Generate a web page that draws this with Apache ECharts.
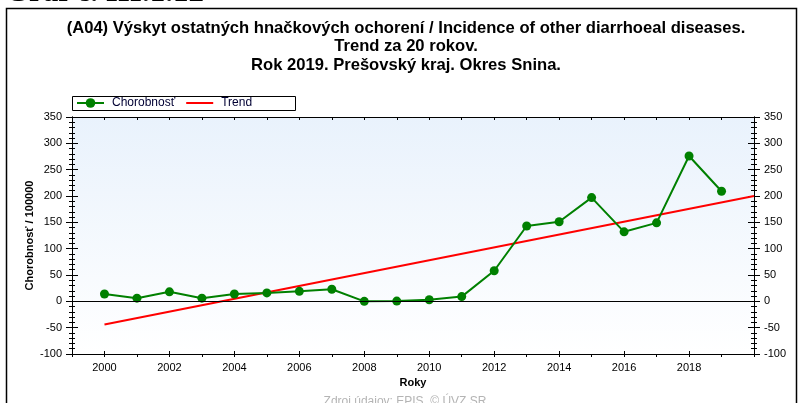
<!DOCTYPE html>
<html>
<head>
<meta charset="utf-8">
<script src="https://cdn.jsdelivr.net/npm/echarts@6/dist/echarts.min.js"></script>
<style>
  html, body { margin: 0; padding: 0; background: #fff; }
  #chart { width: 798px; height: 403px; }
</style>
</head>
<body>
<div id="chart"></div>
<script>
// roky a chorobnost na 100000 (odčítané z grafu)
const years = [2000, 2001, 2002, 2003, 2004, 2005, 2006, 2007, 2008, 2009,
  2010, 2011, 2012, 2013, 2014, 2015, 2016, 2017, 2018, 2019]
const chorobnost = [14, 6, 18, 6, 14, 16, 19, 23, 0, 0.5,
  3, 9, 58, 143, 151, 197, 132, 149, 276, 209]
// lineárny trend – začiatok a koniec
const trendYears = [2000, 2020]
const trendValues = [-44, 200]
// popisky osi X
const xLabels = [2000, 2002, 2004, 2006, 2008, 2010, 2012, 2014, 2016, 2018]
const evenYears = xLabels.concat([2020])

const font = 'Liberation Sans, Arial, sans-serif'
const chart = echarts.init(document.getElementById('chart'))

const yBase = {
  type: 'value',
  min: -100,
  max: 350,
  interval: 50,
  splitLine: { show: false },
  axisLine: { show: true, lineStyle: { color: '#000', width: 1 } },
  axisTick: { show: true, length: 6, lineStyle: { color: '#000' } },
  minorTick: { show: true, splitNumber: 5, length: 3, lineStyle: { color: '#000' } },
  axisLabel: { color: '#000', fontFamily: font, fontSize: 11, margin: 10 }
}

const xBase = {
  type: 'value',
  min: 1999,
  max: 2020,
  interval: 1,
  splitLine: { show: false },
  axisLine: { show: true, onZero: false, lineStyle: { color: '#000', width: 1 } },
  axisLabel: { show: false }
}

const option = {
  backgroundColor: '#fff',
  animation: false,
  title: {
    text: '(A04) Výskyt ostatných hnačkových ochorení / Incidence of other diarrhoeal diseases.\nTrend za 20 rokov.\nRok 2019. Prešovský kraj. Okres Snina.',
    left: 401,
    textAlign: 'center',
    top: 14,
    textStyle: {
      fontFamily: font,
      fontSize: 16.6,
      fontWeight: 'bold',
      color: '#000',
      lineHeight: 18.5
    }
  },
  legend: {
    left: 76,
    top: 97,
    padding: 0,
    itemWidth: 27,
    itemHeight: 12,
    itemGap: 10,
    textStyle: { fontFamily: font, fontSize: 12, color: '#000033', padding: [0, 0, 0, 3] },
    data: ['Chorobnosť', { name: 'Trend', itemStyle: { opacity: 0 } }]
  },
  grid: {
    left: 72,
    right: 44,
    top: 117,
    bottom: 49,
    show: true,
    borderWidth: 0,
    backgroundColor: {
      type: 'linear', x: 0, y: 0, x2: 0, y2: 1,
      colorStops: [{ offset: 0, color: '#e9f2fc' }, { offset: 1, color: '#ffffff' }]
    }
  },
  xAxis: [
    Object.assign({}, xBase, {
      position: 'bottom',
      name: 'Roky',
      nameLocation: 'middle',
      nameGap: 23,
      nameTextStyle: { fontFamily: font, fontSize: 11, fontWeight: 'bold', color: '#000' },
      axisTick: { show: true, length: 3, lineStyle: { color: '#000' } },
      axisLabel: {
        show: true,
        customValues: xLabels,
        formatter: (v) => String(v),
        color: '#000',
        fontFamily: font,
        fontSize: 11,
        margin: 8
      }
    }),
    Object.assign({}, xBase, {
      position: 'bottom',
      axisTick: { show: true, inside: true, length: 3, customValues: evenYears, lineStyle: { color: '#000' } }
    }),
    Object.assign({}, xBase, {
      position: 'top',
      axisTick: { show: true, inside: true, length: 3, lineStyle: { color: '#000' } }
    })
  ],
  yAxis: [
    Object.assign({}, yBase, { position: 'left',
      name: 'Chorobnosť / 100000',
      nameLocation: 'middle',
      nameGap: 37,
      nameMoveOverlap: false,
      nameTextStyle: { fontFamily: font, fontSize: 11, fontWeight: 'bold', color: '#000' }
    }),
    Object.assign({}, yBase, { position: 'left', axisLabel: { show: false },
      axisTick: Object.assign({}, yBase.axisTick, { inside: true }) }),
    Object.assign({}, yBase, { position: 'right' }),
    Object.assign({}, yBase, { position: 'right', axisLabel: { show: false },
      axisTick: Object.assign({}, yBase.axisTick, { inside: true }) })
  ],
  series: [
    {
      name: 'Trend',
      type: 'line',
      data: trendYears.map((y, i) => [y, trendValues[i]]),
      symbol: 'none',
      itemStyle: { color: '#ff0000' },
      lineStyle: { color: '#ff0000', width: 2 },
      markLine: {
        silent: true,
        symbol: ['none', 'none'],
        label: { show: false },
        lineStyle: { color: '#000', width: 1, type: 'solid' },
        data: [{ yAxis: 0 }]
      },
      z: 2
    },
    {
      name: 'Chorobnosť',
      type: 'line',
      data: years.map((y, i) => [y, chorobnost[i]]),
      symbol: 'circle',
      symbolSize: 9,
      itemStyle: { color: '#008000' },
      lineStyle: { color: '#008000', width: 2 },
      z: 3
    }
  ],
  graphic: [
    {
      type: 'rect',
      shape: { x: 6.5, y: 8.5, width: 790, height: 400 },
      style: { fill: 'none', stroke: '#000', lineWidth: 1.5 },
      silent: true
    },
    {
      type: 'rect',
      shape: { x: 72.5, y: 96.5, width: 223, height: 14 },
      style: { fill: 'none', stroke: '#000', lineWidth: 1 },
      silent: true
    },
    {
      type: 'text',
      x: 5,
      y: 8,
      style: {
        text: 'Graf č. III.1.12',
        font: 'bold 31px "Liberation Serif", "Times New Roman", serif',
        fill: '#000',
        verticalAlign: 'bottom'
      },
      silent: true
    },
    {
      type: 'text',
      x: 405,
      y: 396,
      style: {
        text: 'Zdroj údajov: EPIS, © ÚVZ SR',
        font: '12px ' + font,
        fill: '#b4b4b4',
        align: 'center',
        verticalAlign: 'top'
      },
      silent: true
    }
  ]
}

chart.setOption(option)
</script>
</body>
</html>
